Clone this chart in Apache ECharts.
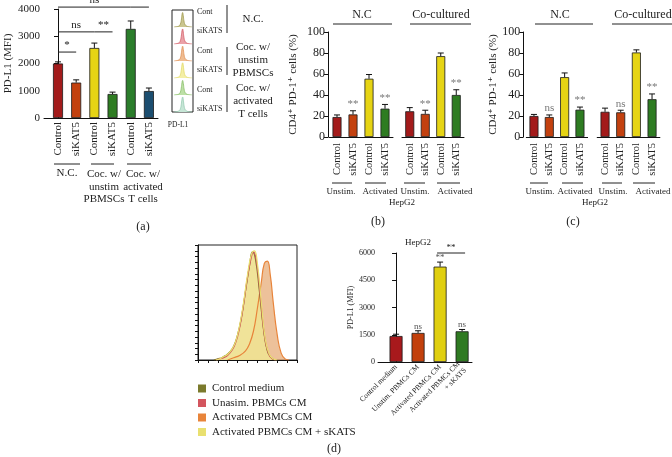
<!DOCTYPE html>
<html><head><meta charset="utf-8">
<script src="https://cdn.jsdelivr.net/npm/echarts@6/dist/echarts.min.js"></script>
<style>html,body{margin:0;padding:0;background:#fff}#c{width:672px;height:457px}</style>
</head><body><div id="c"></div>
<script>
// ---------------- DATA ----------------
// Panel (a) bar chart
const aCats = ['Control','siKAT5','Control','siKAT5','Control','siKAT5'];
const aVals = [2000, 1300, 2570, 880, 3270, 990];
const aErr  = [2060, 1400, 2750, 950, 3560, 1100];
const aBrackets = [[0,1,2420],[0,2,3160],[2,3,3160],[0,4,4070],[4,5,4070]];
const aBracketSig = ['*','ns','**','ns','**'];
const aGroupLabels = ['N.C.','Coc. w/\nunstim\nPBMSCs','Coc. w/\nactivated\nT cells'];
// Panel (a) flow histograms
const flowRowLabels = ['Cont','siKATS','Cont','siKATS','Cont','siKATS'];
const flowGroupLabels = ['N.C.','Coc. w/\nunstim\nPBMSCs','Coc. w/\nactivated\nT cells'];
const flowRow0 = [[2,0],[5,0.4],[7,1.3],[8,3],[8.8,6.5],[9.5,12],[10.1,14.5],[10.7,11.5],[11.4,6],[12.4,2.5],[14,0.9],[16,0.3],[19,0]];
const flowRow1 = [[2,0],[5,0.5],[7,1.5],[8,3.5],[8.8,7.5],[9.5,13],[10.1,15],[10.7,12],[11.4,6.5],[12.4,2.7],[14,1],[16,0.3],[19,0]];
const flowRow2 = [[2,0],[5,0.5],[7,1.4],[8,3.2],[8.8,7],[9.5,12.5],[10.1,14.8],[10.8,11.5],[11.5,6],[12.5,2.5],[14,1],[16,0.3],[19,0]];
const flowRow3 = [[2,0],[5,0.5],[7,1.5],[8,3.4],[8.8,7.4],[9.5,13],[10.1,15.2],[10.8,12],[11.5,6.2],[12.5,2.6],[14,1],[16,0.3],[19,0]];
const flowRow4 = [[2,0],[5,0.4],[7,1.3],[8,3],[8.8,6.8],[9.5,12.2],[10.1,14.6],[10.8,11.6],[11.5,6],[12.5,2.4],[14,0.9],[16,0.3],[19,0]];
const flowRow5 = [[2,0],[5,0.5],[7,1.4],[8,3.3],[8.8,7.2],[9.5,12.8],[10.1,15],[10.8,11.8],[11.5,6.2],[12.5,2.5],[14,1],[16,0.3],[19,0]];
// Panel (b)
const bcCats = ['Control','siKAT5','Control','siKAT5'];
const bNC = [19, 21.5, 55.5, 27];   const bNCErr = [21, 25, 59.5, 31];
const bCo = [24.5, 22, 77, 40];     const bCoErr = [28, 25.5, 80, 45];
const bSigNC = ['', '**', '', '**']; const bSigCo = ['', '**', '', '**'];
// Panel (c)
const cNC = [20, 19, 57, 26];       const cNCErr = [21.5, 21, 61, 28.5];
const cCo = [24, 23.5, 80.5, 36];   const cCoErr = [27.5, 25.5, 83, 41];
const cSigNC = ['', 'ns', '', '**']; const cSigCo = ['', 'ns', '', '**'];
const groupHeaders = ['N.C','Co-cultured'];
const pairLabels = ['Unstim.','Activated','Unstim.','Activated'];
// Panel (d) histogram
const dHistNames = ['Control medium','Unasim. PBMCs CM','Activated PBMCs CM','Activated PBMCs CM + sKATS'];
const dHistControl = [[16,0],[20,1],[24,2],[28,4],[32,7],[36,12],[40,22],[44,38],[48,60],[52,82],[55,94],[58,88],[62,60],[66,28],[70,8],[74,2],[78,0]];
const dHistUnstim  = [[18,0],[22,1],[26,2],[30,4],[34,8],[38,15],[42,28],[46,48],[50,72],[54,90],[56,94],[59,86],[63,55],[67,22],[71,6],[75,1],[79,0]];
const dHistAct     = [[30,0],[36,2],[42,4],[48,8],[52,14],[56,25],[60,45],[64,68],[67,84],[70,86],[73,74],[76,50],[80,22],[84,6],[88,1],[92,0]];
const dHistActSi   = [[18,0],[22,1],[26,3],[30,5],[34,9],[38,16],[42,30],[46,50],[50,74],[54,92],[57,95],[60,84],[64,50],[68,18],[72,5],[76,1],[80,0]];
// Panel (d) bar chart
const dCats = ['Control medium','Unstim. PBMCs CM','Activated PBMCs CM','Activated PBMCs CM\n+ sKATS'];
const dVals = [1430, 1600, 5250, 1690];
const dErr  = [1530, 1720, 5500, 1790];
const dSig  = ['', 'ns', '**', 'ns'];
const dBrackets = [[2,3,6000]];
const dBracketSig = ['**'];

// ---------------- STYLE ----------------
const FF = '"Liberation Serif","DejaVu Serif",serif';
const RED='#a31b1b', ORG='#c3410f', YEL='#e6d414', GRN='#2e7c22', GRN2='#2b7d2b', BLU='#1c4e70';
const aColors = [RED, ORG, YEL, GRN, GRN2, BLU];
const bcColors = [RED, ORG, YEL, GRN];
const dColors = ['#a8191c', '#c2400c', '#e0cf10', '#2f7a22'];
const flowStroke = ['#a29c52','#d4606a','#df9258','#e3dc6a','#8cc06c','#98ccb2'];
const flowFill   = ['#cbc68f','#eba2a8','#f0bd92','#f4efa6','#bde0a6','#c6e6d6'];
const histStroke = ['#7b7a2c','#d3555e','#e8843a','#e9e070'];
const histFill   = ['rgba(190,185,110,0.55)','rgba(230,150,150,0.45)','rgba(228,160,100,0.65)','rgba(246,240,150,0.75)'];

const grids=[], xAxes=[], yAxes=[], series=[], graphics=[];
function addGrid(g, x, y){ grids.push(g); const i=grids.length-1; x.gridIndex=i; y.gridIndex=i; xAxes.push(x); yAxes.push(y); return i; }
const axLine = {show:true, lineStyle:{color:'#111', width:1}};
const hidden = {show:false};
const plain = v => String(v);

function barSeries(idx, vals, colors, w){
  return {type:'bar', xAxisIndex:idx, yAxisIndex:idx, barWidth:w, silent:true,
    itemStyle:{borderColor:'#1a1a1a', borderWidth:0.8},
    data: vals.map((v,i)=>({value:[i,v], itemStyle:{color:colors[i]}}))};
}
function errSeries(idx, vals, errs, sigs, cap, sigColor, sigSize, sigGap){
  return {type:'custom', xAxisIndex:idx, yAxisIndex:idx, clip:false, z:5, silent:true,
    encode:{x:0, y:[1,2]}, data: vals.map((v,i)=>[i,v,errs[i]]),
    renderItem:function(p, api){
      const x=api.value(0), v=api.value(1), e=api.value(2);
      const p1=api.coord([x,v]), p2=api.coord([x,e]);
      const ch=[
        {type:'line', shape:{x1:p1[0],y1:p1[1],x2:p2[0],y2:p2[1]}, style:{stroke:'#111',lineWidth:1}},
        {type:'line', shape:{x1:p2[0]-cap,y1:p2[1],x2:p2[0]+cap,y2:p2[1]}, style:{stroke:'#111',lineWidth:1}}
      ];
      const s=sigs[p.dataIndex];
      if(s) ch.push({type:'text', style:{text:s, x:p2[0], y:p2[1]-sigGap, align:'center', verticalAlign:'bottom', fill:sigColor, fontSize:sigSize, fontFamily:FF}});
      return {type:'group', children:ch};
    }};
}
function bracketSeries(idx, brs, sigs, ext, size){
  return {type:'custom', xAxisIndex:idx, yAxisIndex:idx, clip:false, z:5, silent:true,
    encode:{x:[0,1], y:2}, data: brs,
    renderItem:function(p, api){
      const a=api.coord([api.value(0), api.value(2)]), b=api.coord([api.value(1), api.value(2)]);
      return {type:'group', children:[
        {type:'line', shape:{x1:a[0]-ext,y1:a[1],x2:b[0]+ext,y2:b[1]}, style:{stroke:'#222',lineWidth:1}},
        {type:'text', style:{text:sigs[p.dataIndex], x:(a[0]+b[0])/2, y:a[1]-1, align:'center', verticalAlign:'bottom', fill:'#222', fontSize:size, fontFamily:FF}}
      ]};
    }};
}
function T(text, x, y, size, extra){
  graphics.push({type:'text', x:x, y:y, silent:true, style:Object.assign({text:text, fill:'#222', font:size+'px '+FF,
    align:'center', verticalAlign:'middle', textAlign:'center', textVerticalAlign:'middle'}, extra||{})});
}
function L(x1,y1,x2,y2,c){ graphics.push({type:'line', silent:true, shape:{x1,y1,x2,y2}, style:{stroke:c||'#222', lineWidth:1}}); }
const TOP = {lineHeight:12.5, verticalAlign:'top', textVerticalAlign:'top'};

// ---------------- PANEL (a) bars ----------------
const ga = addGrid({left:44, top:9, width:114, height:109},
  {type:'value', min:-0.77, max:5.5, axisLine:axLine, splitLine:hidden,
   axisTick:{show:false},
   axisLabel:{customValues:[0,1,2,3,4,5], rotate:90, fontSize:11, fontFamily:FF, color:'#222', margin:4, formatter:v=>aCats[Math.round(v)]}},
  {type:'value', min:0, max:4000, interval:1000, axisLine:axLine, splitLine:hidden,
   axisTick:{show:true, length:4, lineStyle:{color:'#111'}},
   axisLabel:{fontSize:11, fontFamily:FF, color:'#222', margin:4, formatter:plain},
   name:'PD-L1 (MFI)', nameLocation:'middle', nameGap:30, nameTextStyle:{fontSize:11, fontFamily:FF, color:'#222'}});
series.push(barSeries(ga, aVals, aColors, 10));
series.push(errSeries(ga, aVals, aErr, ['','','','','',''], 3, '#222', 10, 2));
series.push(bracketSeries(ga, aBrackets, aBracketSig, 0, 11));
// group underlines and labels for (a)
L(54,164,80,164); L(91,164,114,164); L(127,164,151,164);
T(aGroupLabels[0], 67, 167, 11, TOP);
T(aGroupLabels[1], 104, 168, 11, TOP);
T(aGroupLabels[2], 143, 168, 11, TOP);
T('(a)', 143, 227, 12);

// ---------------- PANEL (a) flow histograms ----------------
const flowRows = [flowRow0, flowRow1, flowRow2, flowRow3, flowRow4, flowRow5];
flowRows.forEach((rows, r)=>{
  const gi = addGrid({left:172, top:10+17*r, width:21, height:17},
    {type:'value', min:0, max:20, show:false}, {type:'value', min:0, max:17, show:false});
  series.push({type:'line', xAxisIndex:gi, yAxisIndex:gi, data:rows, smooth:true, symbol:'none', silent:true,
    lineStyle:{color:flowStroke[r], width:0.8}, areaStyle:{color:flowFill[r], opacity:1}});
});
graphics.push({type:'rect', silent:true, shape:{x:172, y:10, width:21, height:102}, style:{fill:'none', stroke:'#222', lineWidth:1}});
T('PD-L1', 178, 125, 7.5);
const flowLabelY = [12, 31, 51, 70, 90, 109];
flowRowLabels.forEach((t,i)=>T(t, 197, flowLabelY[i], 8, {align:'left', textAlign:'left'}));
L(227,5,227,33); L(227,47,227,75); L(227,85,227,112);
T(flowGroupLabels[0], 253, 19, 11, {lineHeight:13});
T(flowGroupLabels[1], 253, 60, 11, {lineHeight:13});
T(flowGroupLabels[2], 253, 101, 11, {lineHeight:13});

// ---------------- PANELS (b) and (c) ----------------
function pctPanel(leftNC, bandNC, leftCo, bandCo, yOffset, nameGap, ncVals, ncErr, ncSig, coVals, coErr, coSig){
  const xa = ()=>({type:'category', data:bcCats, axisLine:axLine, axisTick:{show:false},
    axisLabel:{rotate:90, fontSize:10.5, fontFamily:FF, color:'#222', margin:6, interval:0}});
  const g1 = addGrid({left:leftNC, top:32, width:bandNC*4, height:105}, xa(),
    {type:'value', min:0, max:100, interval:20, offset:yOffset, axisLine:axLine, splitLine:hidden,
     axisTick:{show:true, length:4, lineStyle:{color:'#111'}},
     axisLabel:{fontSize:12, fontFamily:FF, color:'#222', margin:3},
     name:'CD4\u207A PD-1\u207A cells (%)', nameLocation:'middle', nameGap:nameGap, nameTextStyle:{fontSize:11, fontFamily:FF, color:'#222'}});
  series.push(barSeries(g1, ncVals, bcColors, 9));
  series.push(errSeries(g1, ncVals, ncErr, ncSig, 3, '#777', 11, 1));
  const g2 = addGrid({left:leftCo, top:32, width:bandCo*4, height:105}, xa(),
    {type:'value', min:0, max:100, show:false});
  series.push(barSeries(g2, coVals, bcColors, 9));
  series.push(errSeries(g2, coVals, coErr, coSig, 3, '#777', 11, 1));
}
pctPanel(329, 16, 402, 15.5, 1, 29, bNC, bNCErr, bSigNC, bCo, bCoErr, bSigCo);
pctPanel(526.3, 15.33, 597.2, 15.67, 3, 22, cNC, cNCErr, cSigNC, cCo, cCoErr, cSigCo);
// (b) annotations
T(groupHeaders[0], 362, 15, 12); L(333,24,392,24);
T(groupHeaders[1], 441, 15, 12); L(410,24,471,24);
L(332,183,352,183); L(365,183,386,183); L(404,183,425,183); L(437,183,460,183);
[341,380,415,455].forEach((x,i)=>T(pairLabels[i], x, 192, 9));
T('HepG2', 402, 203, 9); T('(b)', 378, 222, 12);
// (c) annotations
T(groupHeaders[0], 560, 15, 12); L(535,24,593,24);
T(groupHeaders[1], 643, 15, 12); L(612,24,672,24);
L(530,183,548,183); L(562,183,583,183); L(602,183,622,183); L(633,183,655,183);
[540,575,613,653].forEach((x,i)=>T(pairLabels[i], x, 192, 9));
T('HepG2', 595, 203, 9); T('(c)', 573, 222, 12);

// ---------------- PANEL (d) histogram ----------------
const gh = addGrid({left:198, top:245, width:99, height:115, show:true, borderColor:'#222', borderWidth:1, backgroundColor:'transparent'},
  {type:'value', min:0, max:100, interval:10, axisLine:axLine, splitLine:hidden, axisLabel:hidden,
   axisTick:{show:true, length:3, lineStyle:{color:'#111'}}},
  {type:'value', min:0, max:100, interval:5, axisLine:axLine, splitLine:hidden, axisLabel:hidden,
   axisTick:{show:true, length:3, lineStyle:{color:'#111'}}});
const histData = [dHistControl, dHistUnstim, dHistAct, dHistActSi];
[2,0,1,3].forEach(k=>{
  series.push({type:'line', name:dHistNames[k], xAxisIndex:gh, yAxisIndex:gh, data:histData[k], smooth:true, symbol:'none', silent:true,
    itemStyle:{color:histStroke[k]}, lineStyle:{color:histStroke[k], width:1.2}, areaStyle:{color:histFill[k], opacity:1}});
});

// ---------------- PANEL (d) bars ----------------
const gd = addGrid({left:378, top:253, width:94, height:109},
  {type:'value', min:-0.82, max:3.45, axisLine:axLine, splitLine:hidden, axisTick:{show:false},
   axisLabel:{customValues:[0,1,2,3], rotate:45, fontSize:7.5, fontFamily:FF, color:'#222', margin:4, lineHeight:9, formatter:v=>dCats[Math.round(v)]}},
  {type:'value', min:0, max:6000, interval:1500, axisLine:axLine, splitLine:hidden,
   axisTick:{show:true, length:4, lineStyle:{color:'#111'}},
   axisLabel:{fontSize:8, fontFamily:FF, color:'#222', margin:3, formatter:plain},
   name:'PD-L1 (MFI)', nameLocation:'middle', nameGap:23, nameTextStyle:{fontSize:8, fontFamily:FF, color:'#222'}});
series.push(barSeries(gd, dVals, dColors, 13));
series.push(errSeries(gd, dVals, dErr, dSig, 3, '#555', 9, 0));
series.push(bracketSeries(gd, dBrackets, dBracketSig, 3, 9));
T('HepG2', 418, 243, 9);
T('(d)', 334, 449, 12);

const option = {
  animation:false,
  backgroundColor:'#fff',
  grid:grids, xAxis:xAxes, yAxis:yAxes, series:series, graphic:graphics,
  legend:{show:true, orient:'vertical', left:193, top:378, itemWidth:8, itemHeight:8, itemGap:3.5, icon:'rect',
    selectedMode:false, textStyle:{fontSize:11, fontFamily:FF, color:'#222', padding:[0,0,0,1]},
    data: dHistNames.map((n,k)=>({name:n, itemStyle:{color:histStroke[k]}}))}
};
const chart = echarts.init(document.getElementById('c'));
chart.setOption(option);
</script>
</body></html>
